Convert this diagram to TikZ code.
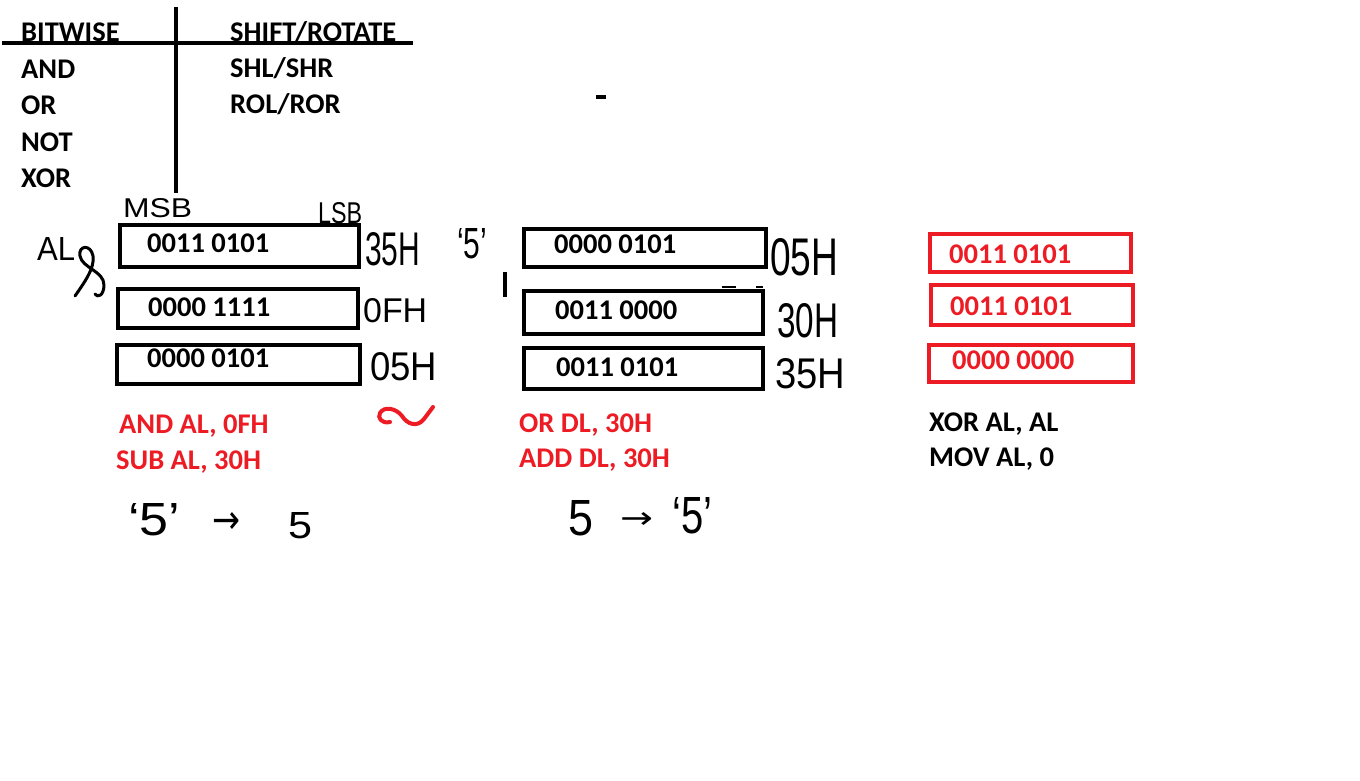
\documentclass[tikz,border=0pt]{standalone}
\usepackage{fontspec}
\setmainfont{Carlito}
\newfontfamily\hwfont{Liberation Sans}
\newfontfamily\arrfont{DejaVu Sans}
\usepackage{graphicx}
\definecolor{pred}{RGB}{237,28,36}
\newcommand{\hwt}[3]{\resizebox{#1pt}{#2pt}{#3}}
\tikzset{
  lbl/.style={anchor=base west, inner sep=0pt, font=\fontsize{28.5}{34}\selectfont\bfseries},
  redlbl/.style={lbl, text=pred},
  binbox/.style={draw=black, line width=4pt, rectangle, inner sep=0pt},
  redbox/.style={draw=pred, line width=4pt, rectangle, inner sep=0pt},
  hw/.style={anchor=north west, inner sep=0pt, font=\hwfont},
  ink/.style={line width=3pt, line cap=round, line join=round},
  thick4/.style={line width=4pt},
}
\begin{document}
\begin{tikzpicture}[x=1pt,y=-1pt]
\useasboundingbox (0,0) rectangle (1360,781);
\fill[white] (0,0) rectangle (1360,781);

% header table
\node[lbl] (bitwise) at (21,42) {BITWISE};
\node[lbl] (shift) at (230,42) {SHIFT/ROTATE};
\node[lbl] (and) at (21,79) {AND};
\node[lbl] (or) at (21,115) {OR};
\node[lbl] (not) at (21,151) {NOT};
\node[lbl] (xor) at (21,187) {XOR};
\node[lbl] (shl) at (230,78) {SHL/SHR};
\node[lbl] (rol) at (230,114) {ROL/ROR};
\draw[thick4] (2,43) -- (413,43);
\draw[thick4] (175.5,7) -- (175.5,193);
\draw[thick4] (596,97) -- (606,97);

% left column boxes
\node[binbox, minimum width=239, minimum height=42] (b1) at (239.5,246) {};
\node[binbox, minimum width=240, minimum height=39] (b2) at (238,308.5) {};
\node[binbox, minimum width=243, minimum height=39] (b3) at (238.5,364.5) {};
\node[lbl] (t1) at (147,252) {0011 0101};
\node[lbl] (t2) at (148,316) {0000 1111};
\node[lbl] (t3) at (147,367) {0000 0101};

% middle column boxes
\node[binbox, minimum width=242, minimum height=38] (b4) at (645,248) {};
\node[binbox, minimum width=239, minimum height=43] (b5) at (643.5,312.5) {};
\node[binbox, minimum width=239, minimum height=41] (b6) at (643.5,368.5) {};
\node[lbl] (t4) at (554,253) {0000 0101};
\node[lbl] (t5) at (555,319) {0011 0000};
\node[lbl] (t6) at (556,376) {0011 0101};
\draw[line width=2pt] (722,287) -- (736,287);
\draw[line width=2pt] (756,287) -- (763,287);

% right column boxes
\node[redbox, minimum width=201, minimum height=38] (r1) at (1030.5,253) {};
\node[redbox, minimum width=202, minimum height=40] (r2) at (1032,305) {};
\node[redbox, minimum width=204, minimum height=37] (r3) at (1031,363.5) {};
\node[redlbl] (t7) at (949,263) {0011 0101};
\node[redlbl] (t8) at (950,315) {0011 0101};
\node[redlbl] (t9) at (952,369) {0000 0000};

% instructions
\node[redlbl] (i1) at (119,433) {AND AL, 0FH};
\node[redlbl] (i2) at (116,469) {SUB AL, 30H};
\node[redlbl] (i3) at (519,432) {OR DL, 30H};
\node[redlbl] (i4) at (519,467) {ADD DL, 30H};
\node[lbl] (i5) at (929,431) {XOR AL, AL};
\node[lbl] (i6) at (929,466) {MOV AL, 0};

% handwritten annotations
\node[hw] (msb) at (123,198) {\hwt{69}{19}{MSB}};
\node[hw] (lsb) at (318,202) {\hwt{44}{21}{LSB}};
\node[hw] (al) at (37,237) {\hwt{38}{23}{AL}};
\node[hw] (h35a) at (365,232) {\hwt{55}{33}{35H}};
\node[hw] (q5a) at (457,228) {\hwt{30}{30}{‘5’}};
\node[hw] (h0f) at (363,298) {\hwt{64}{24}{0FH}};
\node[hw] (h05a) at (370,352) {\hwt{67}{28}{05H}};
\node[hw] (h05b) at (770,238) {\hwt{68}{37}{05H}};
\node[hw] (h30) at (777,303) {\hwt{61}{34}{30H}};
\node[hw] (h35b) at (775,358) {\hwt{70}{30}{35H}};
\node[hw] (q5b) at (128,503) {\hwt{52}{32}{‘5’}};
\node[hw] (arra) at (212,512) {\hwt{28}{21}{\arrfont →}};
\node[hw] (d5a) at (288,512) {\hwt{24}{26}{5}};
\node[hw] (d5b) at (568,500) {\hwt{25}{35}{5}};
\node[hw] (arrb) at (620,512) {\hwt{33}{16}{\arrfont →}};
\node[hw] (q5c) at (672,497) {\hwt{40}{36}{‘5’}};

% ampersand-like swirl next to AL
\draw[ink] (75,296) .. controls (84,283) and (95,268) .. (93,256)
  .. controls (91,244) and (78,245) .. (80,256)
  .. controls (82,268) and (104,271) .. (104,285)
  .. controls (104,296) and (97,298) .. (95,294);
% small vertical mark
\draw[thick4] (505,272) -- (505,297);
% red squiggle
\draw[line width=4pt, pred, line cap=round, line join=round]
  (390,422) .. controls (382,424) and (377,418) .. (380,413)
  .. controls (384,406) and (396,408) .. (402,416)
  .. controls (407,424) and (417,428) .. (424,419)
  -- (433,407);
\end{tikzpicture}
\end{document}
